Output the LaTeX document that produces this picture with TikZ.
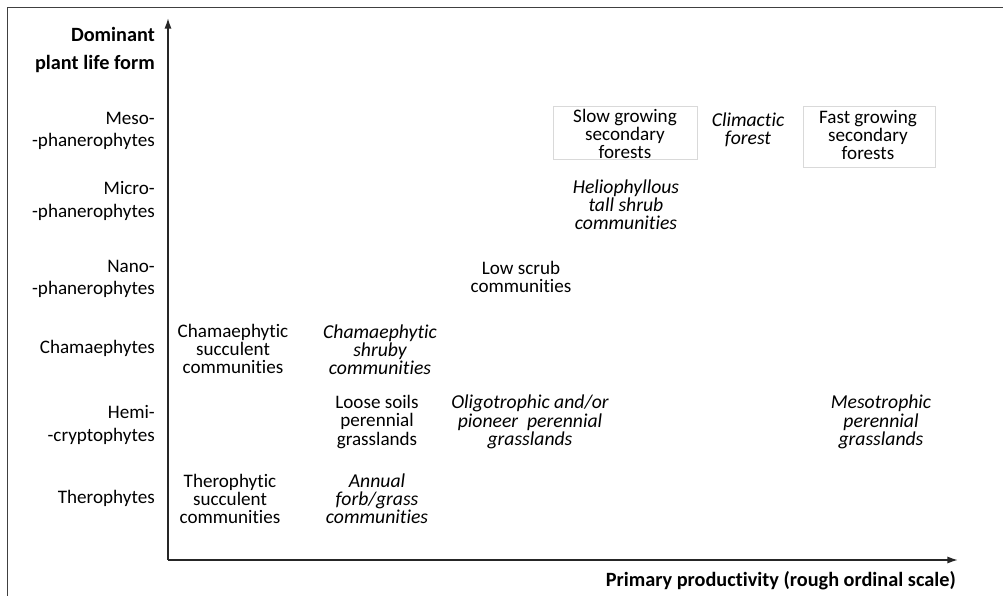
\documentclass[tikz,border=0pt]{standalone}
\usepackage{fontspec}
\setmainfont{Carlito}[Ligatures=NoCommon]
\usetikzlibrary{arrows.meta}
\begin{document}
\begin{tikzpicture}[x=0.03cm,y=-0.03cm,
  axlab/.style={align=right,anchor=east,inner sep=0pt,font=\fontsize{16.3}{19}\selectfont},
  item/.style={align=center,inner sep=0pt,font=\fontsize{16.3}{15.5}\selectfont},
  itemit/.style={item,font=\fontsize{16.8}{15.5}\selectfont\itshape},
  framebox/.style={draw=black!15,line width=0.6pt},
  axis/.style={draw=black!85,line width=1.3pt,-{Latex[length=9pt,width=6pt]}},
  frameline/.style={draw=black!75,line width=1.5pt}
]
\useasboundingbox (0,0) rectangle (1003,596);
% frame
\coordinate (ftr) at (1003,7.5);
\coordinate (ftl) at (7.5,7.5);
\coordinate (fbl) at (7.5,596);
\draw[frameline] (ftr) -- (ftl) -- (fbl);
% axes
\coordinate (o) at (168,560);
\coordinate (ytip) at (168,18);
\coordinate (xtip) at (958,560);
\draw[axis] (o) -- (ytip);
\draw[axis] (o) -- (xtip);
% axis titles
\node[axlab,font=\fontsize{17.3}{23.5}\selectfont\bfseries] (ytitle) at (155,50) {Dominant\\plant life form};
\node[axlab,font=\fontsize{17.3}{19}\selectfont\bfseries] (xtitle) at (956,581) {Primary productivity (rough ordinal scale)};
% y labels
\node[axlab] (meso) at (155,131) {Meso-\\-phanerophytes};
\node[axlab] (micro) at (155,201) {Micro-\\-phanerophytes};
\node[axlab] (nano) at (155,279) {Nano-\\-phanerophytes};
\node[axlab] (chama) at (155,348) {Chamaephytes};
\node[axlab] (hemi) at (155,425) {Hemi-\\-cryptophytes};
\node[axlab] (thero) at (155,498) {Therophytes};
% boxes
\coordinate (sb1) at (553,106); \coordinate (sb2) at (697,159);
\draw[framebox] (sb1) rectangle (sb2);
\coordinate (fb1) at (803,106); \coordinate (fb2) at (935,167);
\draw[framebox] (fb1) rectangle (fb2);
% items
\node[item] (slow) at (625,134) {Slow growing\\secondary\\forests};
\node[itemit] (clim) at (748,130) {Climactic\\forest};
\node[item] (fast) at (868,135) {Fast growing\\secondary\\forests};
\node[itemit] (helio) at (626,205) {Heliophyllous\\tall shrub\\communities};
\node[item] (low) at (521,277) {Low scrub\\communities};
\node[item] (chsucc) at (233,349) {Chamaephytic\\succulent\\communities};
\node[itemit] (chshr) at (380,350) {Chamaephytic\\shruby\\communities};
\node[item] (loose) at (377,422) {Loose soils\\perennial\\grasslands};
\node[itemit] (oligo) at (530,422) {Oligotrophic and/or\\pioneer\ \ perennial\\grasslands};
\node[itemit] (meso2) at (881,422) {Mesotrophic\\perennial\\grasslands};
\node[item] (thsucc) at (230,499) {Therophytic\\succulent\\communities};
\node[itemit] (annual) at (377,499) {Annual\\forb/grass\\communities};
\end{tikzpicture}
\end{document}
